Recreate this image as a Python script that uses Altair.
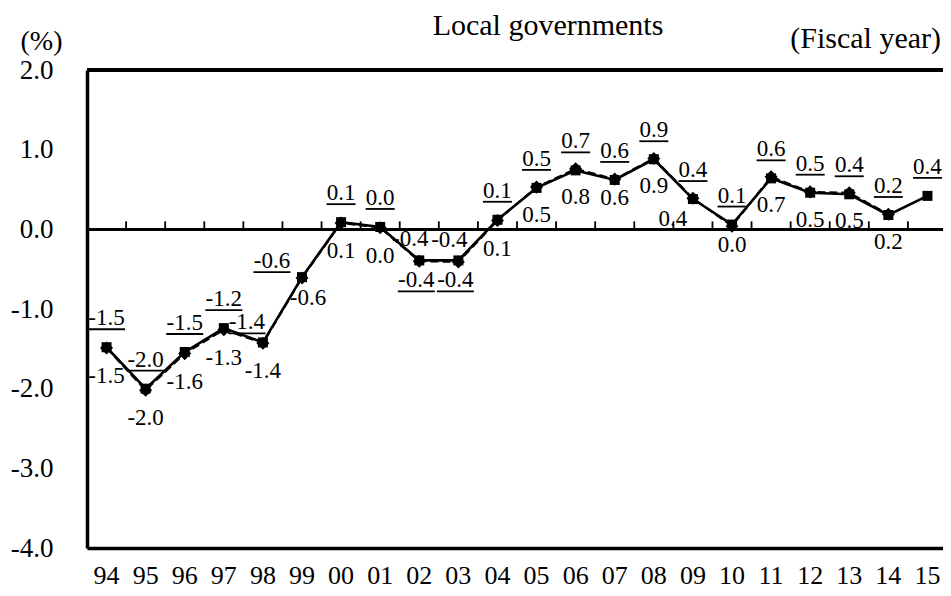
import altair as alt
import pandas as pd

years = ["94", "95", "96", "97", "98", "99", "00", "01", "02", "03", "04",
         "05", "06", "07", "08", "09", "10", "11", "12", "13", "14", "15"]
# solid line, square markers (underlined labels)
solid_values = [-1.48, -2.00, -1.54, -1.24, -1.42, -0.60, 0.09, 0.03, -0.39, -0.39, 0.12,
                0.52, 0.74, 0.62, 0.88, 0.38, 0.06, 0.64, 0.46, 0.44, 0.18, 0.42]
# dashed line, diamond markers (plain labels)
dashed_values = [-1.49, -2.02, -1.56, -1.26, -1.43, -0.61, 0.08, 0.02, -0.40, -0.41, 0.11,
                 0.53, 0.76, 0.63, 0.89, 0.39, 0.04, 0.66, 0.47, 0.46, 0.19, None]
y_ticks = [2.0, 1.0, 0.0, -1.0, -2.0, -3.0, -4.0]

FONT = "Liberation Serif"
W, H = 856, 478
RANGE_W = 860
BAND = RANGE_W / len(years)

df = pd.DataFrame({"year": years, "solid": solid_values, "dashed": dashed_values})
base = alt.Chart(df)

x_enc = alt.X(
    "year:O", sort=years,
    scale=alt.Scale(type="band", paddingInner=0, paddingOuter=0, range=[0, RANGE_W]),
    axis=alt.Axis(title=None, labelAngle=0, labelFont=FONT, labelFontSize=26,
                  labelColor="black", ticks=False, domain=True,
                  domainColor="black", domainWidth=3.5, labelPadding=14),
)
y_scale = alt.Scale(domain=[-4, 2], nice=False, zero=False)
y_axis = alt.Axis(values=y_ticks,
                  labelExpr="(datum.value < 0 ? '-' : '') + format(abs(datum.value), '.1f')",
                  title="(%)", titleAngle=0,
                  titleFont=FONT, titleFontSize=28, titleFontWeight="normal",
                  titleColor="black", titleX=-67, titleY=-21, titleAlign="left",
                  titleBaseline="alphabetic", labelFont=FONT, labelFontSize=27,
                  labelColor="black", labelPadding=34, ticks=False, grid=False,
                  domainColor="black", domainWidth=3.5)

y_solid = alt.Y("solid:Q", scale=y_scale, axis=y_axis)
y_dashed = alt.Y("dashed:Q", scale=y_scale)

# frame pieces
top_rule = base.mark_rule(color="black", strokeWidth=3.5).encode(y=alt.datum(2.0))
zero_rule = base.mark_rule(color="black", strokeWidth=2).encode(y=alt.datum(0.0))
tick_top = [0.1] * len(years)
tick_df = pd.DataFrame({"year": years, "lo": [0.0] * len(years), "hi": tick_top})
zero_ticks = alt.Chart(tick_df).mark_bar(color="black", size=1.8, xOffset=-BAND / 2).encode(
    x=x_enc, y=alt.Y("lo:Q", scale=y_scale), y2="hi:Q"
).transform_filter("datum.year != '94'")

dashed_line = base.mark_line(color="black", strokeWidth=2, strokeDash=[8, 4]).encode(x=x_enc, y=y_dashed)
dashed_pts = base.mark_point(shape="diamond", filled=True, size=170, color="black", opacity=1).encode(x=x_enc, y=y_dashed)
solid_line = base.mark_line(color="black", strokeWidth=2.6).encode(x=x_enc, y=y_solid)
solid_pts = base.mark_point(shape="square", filled=True, size=100, color="black", opacity=1).encode(x=x_enc, y=y_solid)

LBL = dict(font=FONT, fontSize=23, color="black", align="center", baseline="alphabetic")

def fmt(field):
    return f"(datum.{field} < 0 ? '-' : '') + format(abs(datum.{field}), '.1f')"

def in_years(ys):
    return "indexof([" + ",".join(f"'{y}'" for y in ys) + "], datum.year) >= 0"

def not_in_years(ys):
    return "indexof([" + ",".join(f"'{y}'" for y in ys) + "], datum.year) < 0"

def solid_label(filt, dy, dx=0):
    t = base.mark_text(dy=dy, dx=dx, **LBL).encode(
        x=x_enc, y=y_solid, text="lbl:N"
    ).transform_filter(filt).transform_calculate(lbl=fmt("solid"))
    u_neg = base.mark_tick(orient="horizontal", size=37, thickness=1.8, color="black",
                           opacity=1, yOffset=dy + 4, xOffset=dx).encode(
        x=x_enc, y=y_solid).transform_filter(filt).transform_filter("datum.solid < 0")
    u_pos = base.mark_tick(orient="horizontal", size=29, thickness=1.8, color="black",
                           opacity=1, yOffset=dy + 4, xOffset=dx).encode(
        x=x_enc, y=y_solid).transform_filter(filt).transform_filter("datum.solid >= 0")
    return [t, u_neg, u_pos]

def dashed_label(filt, dy, dx=0):
    return base.mark_text(dy=dy, dx=dx, **LBL).encode(
        x=x_enc, y=y_dashed, text="lbl:N"
    ).transform_filter(filt).transform_filter("isValid(datum.dashed)").transform_calculate(
        lbl=fmt("dashed"))

S_SPECIAL = ["02", "03", "98", "99"]
D_SPECIAL = ["02", "03", "07", "09", "10", "99"]

s_layers = (solid_label(not_in_years(S_SPECIAL), -22)
            + solid_label(in_years(["02", "03"]), 27, -3)
            + solid_label(in_years(["98"]), -13, -16)
            + solid_label(in_years(["99"]), -9, -30))
d_layers = [dashed_label(not_in_years(D_SPECIAL), 35),
            dashed_label(in_years(["02", "03"]), -15, -9),
            dashed_label(in_years(["07", "10"]), 26),
            dashed_label(in_years(["09"]), 28, -20),
            dashed_label(in_years(["99"]), 27, 6)]

fiscal = base.mark_text(font=FONT, fontSize=30, color="black", align="right",
                        baseline="alphabetic").encode(
    x=alt.value(854), y=alt.value(-22), text=alt.value("(Fiscal year)")
).transform_filter("datum.year == '94'")

title = base.mark_text(font=FONT, fontSize=30, color="black", align="center",
                       baseline="alphabetic").encode(
    x=alt.value(461), y=alt.value(-35), text=alt.value("Local governments")
).transform_filter("datum.year == '94'")

chart = alt.layer(
    top_rule, zero_rule, zero_ticks,
    dashed_line, solid_line, dashed_pts, solid_pts,
    *s_layers, *d_layers, fiscal, title,
).properties(
    width=W, height=H,
    autosize=alt.AutoSizeParams(type="none"),
    padding={"left": 79, "top": 62, "right": 0, "bottom": 40},
).configure_view(stroke=None).configure(background="white")

chart.save("out.html", embed_options={"renderer": "svg", "actions": False})
